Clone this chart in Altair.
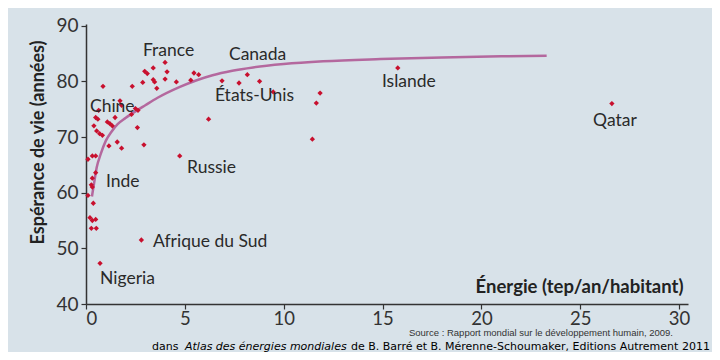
import altair as alt
import pandas as pd

# Scatter data: energy (tep/an/habitant) and life expectancy (années)
energy = [4.0, 3.4, 2.97, 3.1, 4.1, 3.4, 3.47, 4.0, 2.87, 2.34, 3.58, 4.57, 5.46, 5.7, 5.3,
          0.86, 6.2, 1.72, 1.8, 2.5, 2.63, 2.3, 0.64, 0.49, 0.6, 1.47, 0.4, 1.08, 1.21, 1.33,
          2.6, 0.54, 0.69, 0.83, 1.58, 1.16, 1.8, 2.93, 4.74, 0.32, 0.49, 0.1, 0.49, 0.32,
          0.27, 0.32, 0.1, 0.37, 0.2, 0.32, 0.49, 0.27, 0.52, 2.8, 0.71, 6.88, 7.74, 8.16,
          8.78, 9.47, 11.84, 11.65, 11.45, 15.77, 26.6]
life = [83.4, 82.4, 81.8, 81.4, 81.7, 80.3, 79.9, 80.4, 79.8, 79.1, 78.75, 79.9, 81.5, 81.2, 80.2,
        79.1, 73.2, 76.5, 75.7, 75.1, 74.8, 74.05, 74.8, 73.5, 73.2, 73.5, 72.0, 72.7, 72.4, 72.0,
        71.7, 71.1, 70.6, 70.3, 69.1, 68.4, 68.0, 68.6, 66.6, 66.6, 66.6, 66.0, 63.6, 62.6,
        61.4, 61.0, 59.5, 58.1, 55.5, 55.0, 55.2, 53.6, 53.6, 51.5, 47.3, 80.1, 79.7, 81.2,
        80.0, 78.1, 77.9, 76.1, 69.6, 82.4, 76.0]

# Trend curve
curve_x = [0.3, 0.4, 0.54, 0.75, 1.0, 1.3, 1.6, 2.0, 2.5, 3.0, 3.6, 4.75, 5.6, 6.4, 7.4,
           8.45, 10, 12, 14.9, 18, 21, 23.3]
curve_y = [59.3, 61.5, 64.5, 67.0, 69.3, 71.0, 72.3, 73.4, 74.6, 75.7, 77.0, 79.0, 80.2, 81.1,
           81.9, 82.5, 83.1, 83.6, 84.0, 84.3, 84.5, 84.6]

# Country labels (anchored at left edge / vertical middle)
label_names = ["France", "Canada", "États-Unis", "Islande", "Qatar", "Chine", "Inde",
               "Russie", "Afrique du Sud", "Nigeria"]
label_x = [2.88, 7.23, 6.52, 14.97, 25.65, 0.2, 1.01, 5.11, 3.39, 0.71]
label_y = [85.5, 84.8, 77.3, 79.8, 72.9, 75.4, 62.0, 64.5, 51.1, 44.5]

x_ticks = [0, 5, 10, 15, 20, 25, 30]
y_ticks = [40, 50, 60, 70, 80, 90]

pts = pd.DataFrame({"e": energy, "l": life})
crv = pd.DataFrame({"e": curve_x, "l": curve_y})
lbl = pd.DataFrame({"name": label_names, "e": label_x, "l": label_y})

W, H = 602, 280
xscale = alt.Scale(domain=[0, 30.45], nice=False, zero=False)
yscale = alt.Scale(domain=[40, 90.3], nice=False, zero=False)

xaxis = alt.Axis(values=x_ticks, title="Énergie (tep/an/habitant)", grid=False,
                 domainColor="#333333", domainWidth=1.5, tickColor="#333333", tickSize=5,
                 tickWidth=1.2, labelFont="Lato", labelFontSize=18.5, labelColor="#333333",
                 labelPadding=0, titleFont="Lato", titleFontSize=18.5, titleFontWeight="bold",
                 titleColor="#222222", titleX=597, titleY=-18, titleAlign="right",
                 titleBaseline="middle", titleAnchor="end")
yaxis = alt.Axis(values=y_ticks, title="Espérance de vie (années)", grid=False,
                 domainColor="#333333", domainWidth=1.5, tickColor="#333333", tickSize=5,
                 tickWidth=1.2, labelFont="Lato", labelFontSize=19, labelColor="#333333",
                 labelPadding=3, titleFont="Lato", titleFontSize=18, titleFontWeight="bold",
                 titleColor="#222222", titleX=-48, titleY=118, titleAngle=270,
                 titleAlign="center", titleBaseline="middle")

line = alt.Chart(crv).mark_line(color="#b4689e", strokeWidth=2.5, interpolate="monotone").encode(
    x=alt.X("e:Q", scale=xscale, axis=xaxis),
    y=alt.Y("l:Q", scale=yscale, axis=yaxis),
)

dots = alt.Chart(pts).mark_point(shape="diamond", filled=True, color="#c8102e", size=28,
                                 opacity=1).encode(
    x=alt.X("e:Q", scale=xscale),
    y=alt.Y("l:Q", scale=yscale),
)

labels = alt.Chart(lbl).mark_text(align="left", baseline="middle", font="Lato", fontSize=17.5,
                                  color="#2a2a2a").encode(
    x=alt.X("e:Q", scale=xscale),
    y=alt.Y("l:Q", scale=yscale),
    text="name:N",
)

src = alt.Chart(pd.DataFrame({"t": ["Source : Rapport mondial sur le développement humain, 2009."]})
                ).mark_text(align="right", baseline="middle", font="Liberation Sans",
                            fontSize=9.5, color="#333333").encode(
    x=alt.value(587), y=alt.value(309), text="t:N")

credit1 = alt.Chart(pd.DataFrame({"t": ["dans"]})).mark_text(
    align="left", baseline="middle", font="DejaVu Sans", fontSize=11, color="#000000").encode(
    x=alt.value(66), y=alt.value(323), text="t:N")
credit2 = alt.Chart(pd.DataFrame({"t": ["Atlas des énergies mondiales"]})).mark_text(
    align="left", baseline="middle", font="DejaVu Sans", fontSize=11, fontStyle="italic",
    color="#000000").encode(x=alt.value(99), y=alt.value(323), text="t:N")
credit3 = alt.Chart(pd.DataFrame({"t": ["de B. Barré et B. Mérenne-Schoumaker, Editions Autrement 2011"]})).mark_text(
    align="left", baseline="middle", font="DejaVu Sans", fontSize=11, color="#000000").encode(
    x=alt.value(265), y=alt.value(323), text="t:N")

chart = alt.layer(line, dots, labels, src, credit1, credit2, credit3).properties(
    width=W, height=H,
    autosize=alt.AutoSizeParams(type="none"),
    padding={"left": 78, "top": 16, "right": 24, "bottom": 48},
    background="#d8e2e9",
).configure_view(stroke=None)

chart.save("out.html", embed_options={"renderer": "svg", "actions": False})
